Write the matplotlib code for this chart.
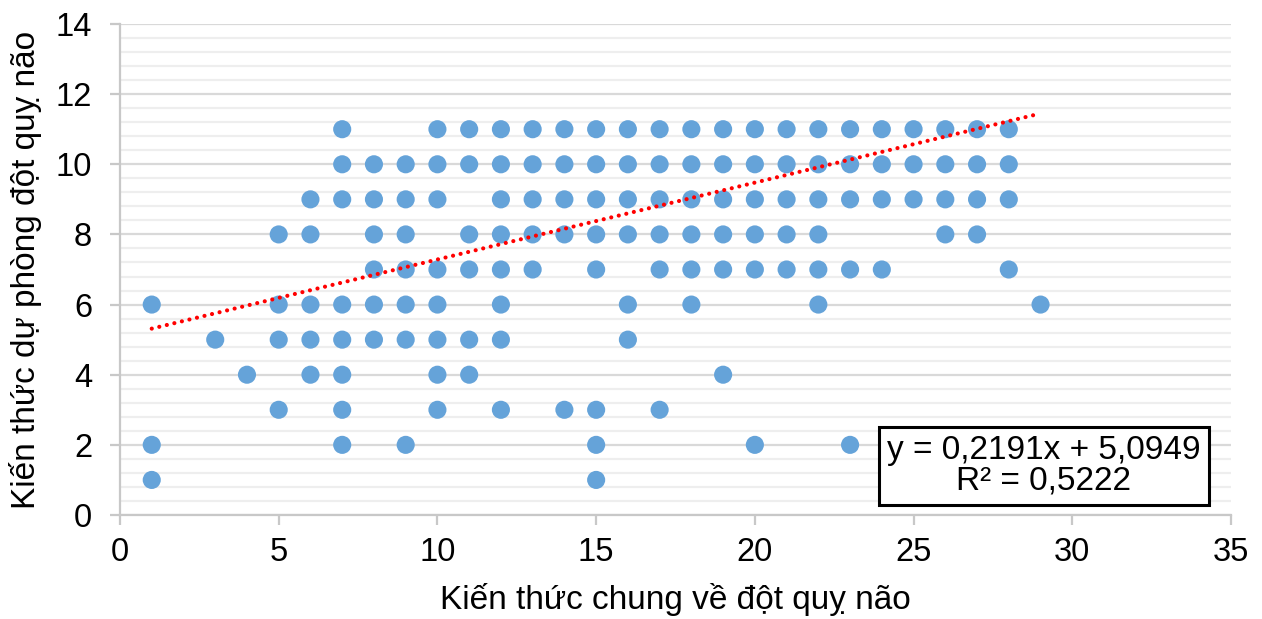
import numpy as np
import matplotlib
matplotlib.use("Agg")
import matplotlib.pyplot as plt
from matplotlib.ticker import MultipleLocator

plt.rcParams["font.family"] = ["Liberation Sans", "DejaVu Sans"]

# Điểm dữ liệu: với mỗi giá trị x, danh sách các giá trị y quan sát được
x_vals = [1, 3, 4, 5, 6, 7, 8, 9, 10, 11, 12, 13, 14, 15, 16, 17, 18, 19, 20,
          21, 22, 23, 24, 25, 26, 27, 28, 29]
y_lists = [
    [6, 2, 1],                      # 1
    [5],                            # 3
    [4],                            # 4
    [8, 6, 5, 3],                   # 5
    [9, 8, 6, 5, 4],                # 6
    [11, 10, 9, 6, 5, 4, 3, 2],     # 7
    [10, 9, 8, 7, 6, 5],            # 8
    [10, 9, 8, 7, 6, 5, 2],         # 9
    [11, 10, 9, 7, 6, 5, 4, 3],     # 10
    [11, 10, 8, 7, 5, 4],           # 11
    [11, 10, 9, 8, 7, 6, 5, 3],     # 12
    [11, 10, 9, 8, 7],              # 13
    [11, 10, 9, 8, 3],              # 14
    [11, 10, 9, 8, 7, 3, 2, 1],     # 15
    [11, 10, 9, 8, 6, 5],           # 16
    [11, 10, 9, 8, 7, 3],           # 17
    [11, 10, 9, 8, 7, 6],           # 18
    [11, 10, 9, 8, 7, 4],           # 19
    [11, 10, 9, 8, 7, 2],           # 20
    [11, 10, 9, 8, 7],              # 21
    [11, 10, 9, 8, 7, 6],           # 22
    [11, 10, 9, 7, 2],              # 23
    [11, 10, 9, 7],                 # 24
    [11, 10, 9],                    # 25
    [11, 10, 9, 8],                 # 26
    [11, 10, 9, 8],                 # 27
    [11, 10, 9, 7],                 # 28
    [6],                            # 29
]

# Đường xu hướng tuyến tính (như trong hộp phương trình)
slope = 0.2191
intercept = 5.0949
r2 = 0.5222
trend_x = [1, 29]

x_label = "Kiến thức chung về đột quỵ não"
y_label = "Kiến thức dự phòng đột quỵ não"

xs = [x for x, ys in zip(x_vals, y_lists) for _ in ys]
ys = [y for yl in y_lists for y in yl]

fig = plt.figure(figsize=(12.62, 6.19), dpi=100)
ax = fig.add_axes([120 / 1262, 1 - 515 / 619, (1231 - 120) / 1262, (515 - 24) / 619])

ax.set_xlim(0, 35)
ax.set_ylim(0, 14)
ax.xaxis.set_major_locator(MultipleLocator(5))
ax.yaxis.set_major_locator(MultipleLocator(2))
ax.yaxis.set_minor_locator(MultipleLocator(0.4))

# lưới ngang: chính đậm hơn, phụ rất nhạt
ax.grid(axis="y", which="major", color="#d9d9d9", lw=1.6, zorder=0)
ax.grid(axis="y", which="minor", color="#eeeeee", lw=1.6, zorder=0)
ax.set_axisbelow(True)

for s in ["top", "right"]:
    ax.spines[s].set_visible(False)
for s in ["left", "bottom"]:
    ax.spines[s].set_color("#c8c8c8")
    ax.spines[s].set_linewidth(1.6)

ax.tick_params(axis="both", which="major", direction="out", length=7, width=1.6,
               color="#c8c8c8", labelsize=23.5, labelcolor="black")
ax.tick_params(axis="x", pad=9)
ax.tick_params(axis="y", pad=13)
ax.tick_params(axis="y", which="minor", length=0)

ax.scatter(xs, ys, s=170, color="#65a3d9", edgecolors="none", zorder=3)

tx = np.array(trend_x, dtype=float)
ax.plot(tx, slope * tx + intercept, color="#ff0000", lw=3.0,
        linestyle=(0, (0.01, 1.85)), dash_capstyle="round", zorder=4)

eq_text = f"y = {slope:.4f}x + {intercept:.4f}\nR² = {r2:.4f}".replace(".", ",")
ax.text(29.1, 1.40, eq_text, fontsize=24, ha="center", va="center",
        multialignment="center", linespacing=1.0, zorder=5,
        bbox=dict(boxstyle="square,pad=0.25", fc="white", ec="black", lw=2.2))

ax.set_xlabel(x_label, fontsize=24, labelpad=11)
ax.set_ylabel(y_label, fontsize=24, labelpad=10)

fig.savefig("out.png", dpi=100)
